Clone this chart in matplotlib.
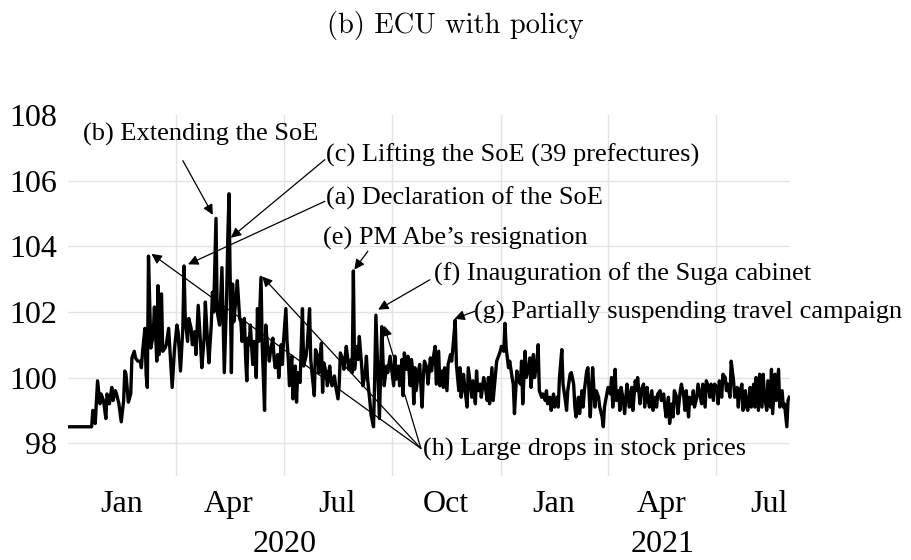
"""
ECU with policy: daily ECU index, Jan 2020 - Aug 2021, with policy/market events.
Output: out.png
"""
import matplotlib
matplotlib.use("Agg")
import matplotlib.pyplot as plt
import numpy as np
import pandas as pd

START = pd.Timestamp("2020-01-01")

# day offset from 2020-01-01 and ECU value
DAY = [
    0, 20, 21, 23, 25, 27, 28, 30, 32, 33, 35, 37, 38, 40, 41, 43, 45, 47, 48, 49,
    51, 53, 54, 56, 57, 59, 61, 62, 63, 65, 66, 67, 68, 70, 72, 73, 75, 76, 77, 79,
    80, 82, 83, 85, 87, 88, 90, 92, 93, 95, 97, 98,
    99, 101, 102, 104, 105, 107, 108, 110, 112, 113, 115, 116, 118, 119, 121, 122, 123, 125,
    126, 128, 130, 131, 132, 134, 135, 136, 138, 139, 140, 142, 143, 145, 146, 147, 149, 150,
    151, 152, 153, 154, 156, 157, 159, 160, 161, 163, 164, 166, 167, 168, 170, 171, 173, 174,
    175, 177, 178, 180, 181, 182, 184, 185, 186,
    187, 189, 190, 192, 193, 194, 196, 198, 199, 201, 202, 204, 205, 206, 208, 209, 211, 212,
    214, 215, 216, 218, 219, 221, 222, 223, 225, 226, 228, 229, 230, 232, 233, 235, 236, 237,
    239, 240, 241, 242, 244, 245, 246, 248, 249, 251, 252, 253, 255, 256, 258, 259, 260, 262,
    263, 265, 266, 267, 269, 270, 272, 273, 275, 276, 277, 279, 280, 282, 283, 284, 286, 287,
    289, 290, 291,
    292, 293, 294, 296, 297, 299, 300, 301, 303, 304, 306, 307, 308, 310, 311, 313, 314, 316,
    317, 318, 320, 321, 323, 324, 325, 327, 328, 330, 331, 332, 334, 335, 337, 338, 339, 341,
    342, 344, 345, 346, 348, 349, 351, 352, 354, 355, 356, 358, 359, 361, 362, 363, 365, 366,
    368, 369, 370, 372, 373, 375, 376, 377, 379, 380,
    382, 383, 384, 386, 387, 389, 390, 391, 393, 394, 396, 397, 398, 400, 401, 403, 404, 405,
    407, 408, 410, 411, 413, 414, 415, 417, 418, 420, 421, 422, 424, 425, 427, 428, 429, 431,
    432, 434, 435, 436, 438, 439, 441, 442, 443, 445, 446, 448, 449, 451, 452, 453, 455, 456,
    458, 459, 460, 462, 463, 465, 466, 467, 469, 470, 472, 473, 474, 476, 477, 479, 480, 481,
    483, 484, 486,
    487, 489, 490, 491, 493, 494, 496, 497, 498, 500, 501, 503, 504, 505, 507, 508, 510, 511,
    512, 514, 515, 517, 518, 520, 521, 522, 524, 525, 527, 528, 529, 531, 532, 534, 535, 536,
    538, 539, 541, 542, 543, 545, 546, 548, 549, 550, 552, 553, 555, 556, 557, 559, 560, 562,
    563, 565, 566, 567, 569, 570, 572, 573, 574, 576, 577, 579, 580, 581, 583, 584, 586, 587,
    588, 590, 591, 593, 594, 595, 597, 598, 600, 601, 603, 604, 605, 607, 608, 609,
]
ECU = [
    98.5, 98.5, 99.0, 98.6, 99.9, 99.2, 99.5, 99.3, 98.75, 99.5, 99.2, 99.7, 99.3, 99.6, 99.5, 99.2, 98.65, 99.3, 100.2, 100.1,
    99.25, 99.5, 100.6, 100.8, 100.6, 100.5, 100.5, 100.3, 100.8, 101.5, 100.1, 99.7, 103.7, 100.9, 101.3, 102.15, 100.5, 102.8, 100.7, 102.55,
    100.8, 100.9, 101.0, 101.5, 100.3, 99.7, 100.9, 101.6, 101.4, 100.2, 101.5, 103.4,
    101.8, 101.1, 101.8, 101.5, 101.0, 101.4, 100.7, 102.2, 101.0, 100.3, 101.2, 102.3, 101.0, 100.45, 101.6, 102.6, 102.0, 104.85,
    102.0, 101.6, 103.35, 101.8, 100.15, 102.45, 104.3, 105.6, 100.15, 102.85, 101.7, 102.45, 102.95, 101.8, 101.7, 101.1, 101.8, 100.6,
    99.9, 101.2, 101.0, 101.6, 100.4, 101.1, 100.0, 102.1, 101.1, 103.05, 101.0, 99.0, 101.6, 101.2, 100.5, 100.8, 101.2, 100.6,
    100.3, 100.7, 100.0, 101.0, 100.4, 101.1, 102.1, 101.1, 100.6,
    99.75, 100.65, 99.35, 100.35, 99.25, 100.15, 99.85, 102.1, 100.35, 100.65, 100.95, 102.1, 100.55, 100.15, 99.45, 100.85, 100.65, 100.15,
    101.05, 99.55, 100.45, 100.15, 99.75, 100.35, 99.95, 99.75, 100.05, 99.75, 99.35, 99.75, 100.75, 100.55, 100.25, 100.95, 100.65, 100.25,
    100.55, 100.15, 103.25, 100.25, 100.95, 100.55, 101.25, 100.35, 99.75, 100.15, 100.65, 99.95, 99.25, 98.85, 98.5, 99.95, 101.9, 99.85,
    98.75, 101.55, 100.55, 99.75, 100.35, 100.15, 100.65, 100.35, 99.75, 100.65, 99.95, 100.35, 99.75, 100.55, 99.45, 100.75, 100.25, 100.65,
    99.75, 100.55, 100.25,
    99.2, 100.3, 99.6, 100.2, 100.4, 99.1, 100.0, 100.5, 100.3, 99.8, 100.6, 100.2, 100.5, 100.95, 99.8, 100.8, 99.75, 100.2,
    99.7, 100.3, 99.6, 100.4, 100.7, 100.5, 100.9, 101.75, 100.4, 99.6, 100.3, 99.4, 100.1, 99.7, 99.1, 100.3, 100.0, 99.4,
    99.9, 99.2, 100.2, 99.6, 99.8, 99.4, 100.0, 99.8, 99.3, 100.0, 99.2, 100.3, 99.3, 100.1, 100.5, 100.6, 100.8, 100.95,
    100.8, 101.65, 100.9, 100.3, 100.5, 100.0, 99.8, 98.9, 100.2, 100.0,
    99.8, 100.5, 99.2, 100.8, 100.0, 100.3, 100.6, 99.7, 100.7, 100.0, 100.5, 101.0, 99.6, 99.4, 99.5, 99.3, 99.6, 99.2,
    99.4, 99.0, 99.5, 99.1, 99.4, 99.1, 100.0, 100.85, 99.8, 99.3, 99.0, 99.6, 100.1, 100.15, 99.8, 99.1, 98.8, 99.4,
    98.9, 99.6, 99.1, 99.6, 100.2, 100.3, 98.8, 99.5, 100.3, 99.1, 99.6, 99.4, 99.1, 98.8, 98.5, 99.1, 99.5, 99.7,
    99.5, 100.0, 99.1, 100.25, 99.3, 99.6, 99.0, 99.7, 99.3, 98.9, 99.8, 99.5, 99.1, 99.7, 99.0, 99.9, 99.6, 100.0,
    99.2, 99.6, 99.8,
    99.1, 99.7, 99.3, 99.1, 99.6, 99.0, 99.4, 99.1, 99.5, 99.6, 99.3, 99.5, 99.1, 98.8, 99.4, 98.6, 99.2, 98.8,
    99.6, 99.4, 98.9, 99.6, 99.8, 99.4, 99.0, 99.6, 98.8, 99.4, 99.2, 99.6, 99.1, 99.4, 99.8, 99.4, 99.2, 99.8,
    99.1, 99.9, 99.7, 99.4, 99.8, 99.3, 99.8, 99.7, 99.2, 99.9, 99.4, 100.1, 100.0, 99.6, 99.8, 99.4, 100.5, 99.9,
    99.4, 99.7, 99.1, 99.5, 99.8, 99.0, 99.6, 99.1, 99.0, 99.7, 99.1, 99.8, 99.1, 100.0, 99.0, 100.1, 99.1, 100.1,
    99.5, 99.0, 99.9, 99.1, 100.25, 98.9, 100.1, 99.3, 100.25, 99.1, 99.6, 99.1, 99.2, 98.5, 99.3, 99.4,
]

Y_TICKS = [98, 100, 102, 104, 106, 108]
QUARTER_LABELS = ["Jan", "Apr", "Jul", "Oct", "Jan", "Apr", "Jul"]
QUARTER_MIDS = ["2020-02-15", "2020-05-16", "2020-08-15", "2020-11-15",
                "2021-02-14", "2021-05-16", "2021-08-15"]
QUARTER_STARTS = ["2020-04-01", "2020-07-01", "2020-10-01",
                  "2021-01-01", "2021-04-01", "2021-07-01"]
YEARS = ["2020", "2021"]
YEAR_MIDS = ["2020-07-02", "2021-05-17"]

# (label, text left/centre (day, value), arrow tail, arrow tips)
EVENTS = [
    ("(b) Extending the SoE", (12.5, 107.40), (97.0, 106.61), [(122.3, 104.96)]),
    ("(c) Lifting the SoE (39 prefectures)", (218.2, 106.76), (216.9, 106.64), [(137.5, 104.26)]),
    ("(a) Declaration of the SoE", (218.2, 105.47), (216.9, 105.37), [(101.4, 103.45)]),
    ("(e) PM Abe\u2019s resignation", (215.2, 104.25), (253.2, 103.85), [(241.8, 103.29)]),
    ("(f) Inauguration of the Suga cabinet", (309.0, 103.14), (305.6, 102.98), [(261.9, 102.07)]),
    ("(g) Partially suspending travel campaign", (342.7, 101.99), (343.6, 102.02), [(326.3, 101.79)]),
    ("(h) Large drops in stock prices", (299.4, 97.81), (298.0, 97.84),
     [(70.5, 103.77), (164.0, 103.08), (267.0, 101.58)]),
]

SERIF = "Liberation Serif"
GRID = "#e4e4e4"


def to_date(day):
    return START + pd.to_timedelta(day, unit="D")


def main():
    fig = plt.figure(figsize=(9.11, 5.6), dpi=100)
    ax = fig.add_axes([0.0746, 0.15, 0.7925, 0.6446])

    ax.plot(to_date(np.array(DAY)), ECU, color="black", lw=2.4, zorder=3)

    ax.set_xlim(to_date(0), to_date(609.6))
    ax.set_ylim(97, 108)

    ax.set_yticks(Y_TICKS)
    ax.set_yticklabels([str(v) for v in Y_TICKS], fontsize=23, family=SERIF)
    ax.set_xticks(pd.to_datetime(QUARTER_MIDS))
    ax.set_xticklabels(QUARTER_LABELS, fontsize=23, family=SERIF)
    ax.set_xticks(pd.to_datetime(QUARTER_STARTS), minor=True)
    ax.tick_params(which="both", length=0)
    ax.tick_params(axis="x", pad=10)
    ax.tick_params(axis="y", pad=8)

    ax.grid(which="minor", axis="x", color=GRID, lw=1.0)
    ax.grid(which="major", axis="y", color=GRID, lw=1.0)
    ax.grid(which="major", axis="x", visible=False)
    ax.get_ygridlines()[-1].set_visible(False)
    for s in ax.spines.values():
        s.set_visible(False)

    for yr, mid in zip(YEARS, YEAR_MIDS):
        ax.annotate(yr, xy=(pd.Timestamp(mid), 0), xycoords=("data", "axes fraction"),
                    xytext=(0, -49), textcoords="offset points",
                    ha="center", va="center", fontsize=23, family=SERIF,
                    annotation_clip=False)

    for label, (tx, ty), (ax0, ay0), tips in EVENTS:
        ax.text(to_date(tx), ty, label, ha="left", va="center",
                fontsize=19, family=SERIF, zorder=5)
        for (px, py) in tips:
            ax.annotate("", xy=(to_date(px), py), xytext=(to_date(ax0), ay0),
                        arrowprops=dict(arrowstyle="-|>", color="black", lw=0.9,
                                        shrinkA=0, shrinkB=0, mutation_scale=15),
                        zorder=4, annotation_clip=False)

    fig.text(0.5, 1 - 25 / 560, "(b) ECU with policy", family="cmr10",
             fontsize=20.5, ha="center", va="center")

    fig.savefig("out.png", dpi=100)
    plt.close(fig)


if __name__ == "__main__":
    main()
